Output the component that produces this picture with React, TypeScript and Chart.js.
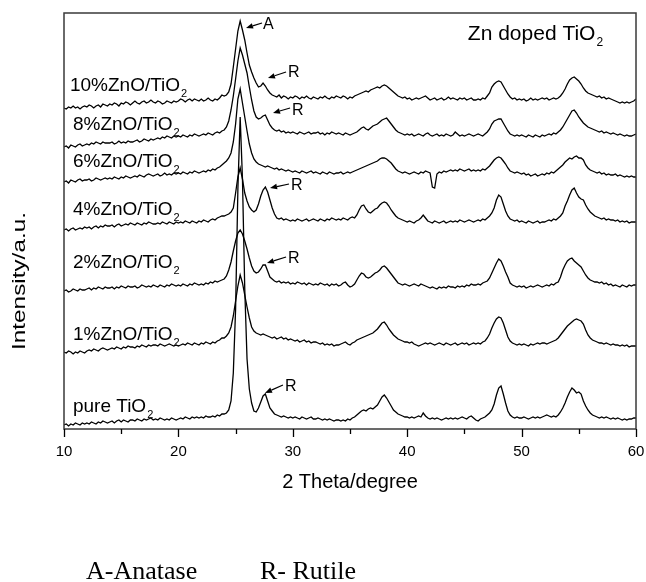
import React, { useEffect, useRef } from "react";
import { Chart, registerables } from "chart.js";

Chart.register(...registerables);

// 2θ sampling grid (degrees): 10.0 … 60.0, step 0.2
const X_START = 10;
const X_STEP = 0.2;
const X_COUNT = 251;
const TWO_THETA = Array.from({ length: X_COUNT }, (_, i) => +(X_START + i * X_STEP).toFixed(1));

// Stacked intensities (a.u., offsets included as drawn)
const PURE = [
  4,5,3,5,4,6,5,4,6,5, 6,5,7,6,5,7,6,8,7,6, 7,8,6,8,9,7,9,8,7,9, 9,8,10,9,8,10,9,10,11,9,
  10,9,11,10,9,10,9,11,10,9, 10,11,10,12,11,10,12,11,12,11, 12,11,13,12,12,13,12,14,13,15,
  15,16,19,28,56,120,240,312,250,140, 70,40,26,18,17,21,27,33,35,28, 21,18,15,14,13,12,13,12,11,12,
  11,12,11,10,12,11,10,11,12,10, 10,11,10,9,10,9,10,9,8,9, 9,8,9,8,10,9,11,12,14,16,
  18,19,18,20,21,20,22,24,28,32, 34,31,27,23,19,17,15,14,13,12, 12,11,12,11,12,13,12,16,13,11,
  10,11,10,11,10,9,10,11,10,11, 10,11,10,11,12,11,10,12,13,11, 9,8,10,11,12,14,16,19,25,34,
  41,43,35,26,18,14,12,11,12,11, 11,12,11,10,11,12,11,12,11,12, 13,14,13,12,13,12,14,17,21,26,
  32,37,41,39,36,37,35,28,23,19, 16,14,13,12,11,12,11,12,11,10, 11,10,11,10,9,10,9,10,10,11,
  11,
];
const ZNO_1 = [
  77,76,78,77,75,77,76,78,77,76, 78,79,78,80,79,78,80,81,80,79, 80,81,80,82,81,80,82,81,83,82,
  82,81,83,82,84,83,82,84,83,84, 84,83,85,84,83,84,85,84,83,84, 83,84,85,84,86,85,84,86,85,84,
  86,85,87,86,85,87,86,88,89,91, 91,93,96,102,113,128,143,154,146,134, 122,111,102,98,96,95,94,95,94,93,
  92,91,92,90,91,92,90,91,89,90, 89,88,89,87,88,89,87,88,86,87, 87,86,85,86,84,85,84,85,83,84,
  84,85,86,87,85,84,86,87,89,90, 91,92,93,94,95,96,98,100,103,106, 107,104,100,97,94,92,90,89,88,87,
  87,86,87,85,84,83,84,85,86,85, 86,85,84,85,86,85,84,86,85,84, 85,86,84,85,86,85,86,84,85,86,
  85,86,85,87,88,91,95,101,106,110, 112,111,106,99,92,88,86,85,84,85, 84,85,84,83,85,84,85,86,85,86,
  86,85,86,87,88,89,91,94,97,100, 103,105,107,109,110,109,108,105,99,94, 91,89,88,87,86,86,85,86,85,84,
  85,84,84,83,84,83,84,82,83,83,
  83,
];
const ZNO_2 = [
  138,139,137,138,140,139,138,140,139,139, 140,141,139,141,140,142,141,140,142,141, 141,142,140,142,141,143,142,141,143,142,
  142,143,141,142,144,143,142,143,142,144, 143,142,144,143,142,144,143,145,144,143, 144,143,145,144,143,145,144,146,145,144,
  145,144,146,145,147,146,148,147,148,149, 150,153,159,167,178,188,196,199,195,188, 180,171,163,158,156,157,160,164,164,158,
  152,150,148,147,148,146,147,146,147,145, 146,145,147,146,145,146,144,146,145,144, 145,144,146,145,144,145,143,145,144,145,
  143,144,146,147,144,142,143,145,149,153, 156,155,152,151,152,154,156,157,159,162, 163,161,158,155,152,149,146,145,144,145,
  144,143,144,145,144,143,145,144,143,142, 141,142,141,140,142,141,142,141,143,142, 142,141,143,142,143,142,144,143,145,144,
  144,145,144,146,147,148,151,156,161,166, 170,168,163,157,152,146,144,143,142,143, 142,143,141,142,143,142,143,144,143,142,
  143,144,143,145,144,146,147,152,159,164, 168,170,171,168,166,164,162,158,154,151, 149,148,147,147,146,147,145,146,144,145,
  143,144,143,142,144,143,142,144,143,144,
  144,
];
const ZNO_4 = [
  199,200,198,200,201,199,200,201,200,202, 201,202,200,202,203,201,203,202,204,203, 203,204,202,204,205,203,204,205,204,206,
  205,204,206,205,204,206,205,207,206,205, 205,206,205,207,206,205,207,206,205,207, 206,207,206,208,207,206,208,207,206,208,
  207,209,208,207,209,210,209,211,212,213, 213,214,215,217,221,236,252,261,250,236, 228,222,219,217,219,225,233,239,242,237,
  229,221,215,211,210,211,209,210,209,208, 209,208,210,209,208,209,210,208,209,210, 209,208,210,209,208,210,209,211,210,209,
  210,209,211,210,209,211,212,211,214,219, 223,224,220,217,216,218,220,221,224,226, 227,226,223,219,216,213,211,210,209,208,
  207,208,207,206,208,209,211,214,211,208, 207,206,208,207,206,207,208,206,207,208, 207,208,207,209,208,207,208,209,208,207,
  208,209,208,210,209,211,213,216,221,229, 234,232,225,218,213,210,209,208,209,207, 208,207,206,208,207,206,207,208,206,207,
  207,208,209,208,210,209,211,213,216,223, 228,234,239,241,236,232,230,229,224,220, 217,215,213,212,211,210,211,209,210,209,
  209,208,209,207,208,207,208,206,207,207,
  207,
];
const ZNO_6 = [
  247,248,246,249,248,247,249,250,248,249, 249,250,248,249,251,250,249,250,251,250, 251,250,252,251,250,252,251,253,252,251,
  252,253,252,254,253,252,254,255,254,253, 254,255,253,254,256,254,255,254,256,255, 256,255,257,256,255,257,256,258,257,256,
  257,258,257,259,258,260,259,261,262,264, 266,268,271,276,287,305,330,340,326,312, 298,285,276,270,267,265,264,263,262,263,
  262,261,260,261,259,260,259,258,259,258, 257,258,257,256,258,257,256,257,258,256, 257,256,255,257,256,255,257,256,255,256,
  256,257,255,256,257,256,257,258,259,260, 261,262,263,264,265,266,267,268,270,271, 271,270,268,266,263,260,258,257,256,257,
  256,255,256,257,256,255,257,256,258,257, 256,242,241,255,257,256,258,257,258,259, 258,259,258,260,259,258,259,260,258,259,
  258,259,258,260,259,261,263,266,269,271, 272,271,268,265,261,258,257,256,257,256, 255,256,254,255,253,254,255,253,254,255,
  254,256,255,257,256,258,260,262,264,267, 269,271,270,272,273,271,271,269,264,261, 259,258,257,256,257,255,256,254,255,254,
  254,255,253,254,253,252,253,252,253,252,
  252,
];
const ZNO_8 = [
  282,283,281,284,283,282,284,285,283,284, 285,284,286,285,287,286,285,287,286,286, 286,287,285,286,288,286,287,286,288,287,
  287,288,289,287,288,290,289,288,290,289, 290,291,290,292,291,293,292,291,293,292, 293,292,294,293,292,294,293,295,294,293,
  294,295,294,296,295,294,296,297,296,298, 299,302,308,319,333,350,368,381,374,365, 356,342,329,318,312,310,311,313,314,309,
  304,301,299,298,299,297,298,296,297,296, 297,296,295,297,296,295,296,297,295,296, 296,297,295,296,294,296,295,297,296,295,
  296,295,294,296,295,294,295,296,297,299, 301,302,300,299,301,303,304,305,307,309, 310,311,308,305,302,299,297,296,295,294,
  295,294,295,293,294,295,294,293,295,296, 294,293,294,295,293,294,293,295,294,293, 294,297,295,293,294,293,294,295,294,293,
  294,295,294,293,295,297,300,305,308,309, 310,310,306,302,298,295,294,293,294,293, 294,293,292,294,293,292,294,293,292,294,
  293,294,295,294,296,295,297,299,302,306, 310,314,318,319,316,312,309,306,304,302, 301,300,299,298,297,298,296,297,296,295,
  296,295,294,295,294,293,294,293,293,294,
  295,
];
const ZNO_10 = [
  321,320,322,321,323,321,322,320,322,323, 322,324,323,321,323,324,322,325,324,323, 325,324,326,325,323,326,325,327,326,324,
  326,328,326,325,327,328,326,327,329,327, 326,328,327,325,326,328,327,326,328,327, 328,330,329,327,329,330,328,330,329,328,
  330,328,329,331,329,328,330,329,331,334, 333,334,337,345,362,380,398,408,399,389, 376,364,357,351,346,342,343,346,343,339,
  336,334,333,332,334,331,333,332,330,332, 331,333,332,330,332,331,333,331,330,332, 331,330,332,331,333,331,330,332,331,333,
  332,331,333,332,330,332,331,333,334,335, 336,337,338,337,339,340,341,342,341,343, 344,343,341,339,337,335,333,332,331,332,
  330,331,329,330,331,330,331,332,333,331, 329,330,331,329,330,331,329,330,332,330, 331,330,329,331,330,331,329,330,331,329,
  329,330,329,331,330,333,336,342,345,347, 348,347,343,339,335,332,330,331,329,330, 329,330,328,329,331,329,330,329,330,331,
  330,331,329,330,331,330,331,333,336,340, 345,349,351,352,350,348,345,341,338,336, 335,334,333,332,333,331,332,330,331,330,
  329,328,327,326,327,326,327,326,327,328,
  330,
];

const SERIES = [PURE, ZNO_1, ZNO_2, ZNO_4, ZNO_6, ZNO_8, ZNO_10];
const SERIES_LABELS = ["pure TiO", "1%ZnO/TiO", "2%ZnO/TiO", "4%ZnO/TiO", "6%ZnO/TiO", "8%ZnO/TiO", "10%ZnO/TiO"];
const LABEL_X = [10.78, 10.78, 10.78, 10.78, 10.78, 10.78, 10.52]; // degrees (left edge)
const LABEL_Y = [17, 89, 161, 214, 262, 299, 338]; // a.u. (baseline)

const X_MIN = 10;
const X_MAX = 60;
const Y_MIN = 0;
const Y_MAX = 416;
const MAJOR_TICKS = [10, 20, 30, 40, 50, 60];
const MINOR_TICKS = [15, 25, 35, 45, 55];

const X_TITLE = "2 Theta/degree";
const Y_TITLE = "Intensity/a.u.";
const CORNER_TITLE = "Zn doped TiO";
const CORNER_X = 45.3;
const CORNER_Y = 389;

const ANNOT_TEXT = ["A", "R", "R", "R", "R", "R"];
const ANNOT_TEXT_X = [27.4, 29.58, 29.93, 29.84, 29.58, 29.32];
const ANNOT_TEXT_Y = [400, 352, 314, 239, 166, 38];
const ARROW_TAIL_X = [27.31, 29.41, 29.76, 29.67, 29.41, 29.14];
const ARROW_TAIL_Y = [406, 357, 321, 245, 172, 44];
const ARROW_TIP_X = [25.91, 27.83, 28.27, 28.01, 27.74, 27.57];
const ARROW_TIP_Y = [401, 351, 316, 241, 166, 36];

const FOOTNOTES = ["A-Anatase", "R- Rutile"];

const SANS = '"Liberation Sans", Arial, Helvetica, sans-serif';
const SERIF = '"Liberation Serif", "Times New Roman", Times, serif';

function drawSub(ctx: CanvasRenderingContext2D, text: string, x: number, y: number, size: number) {
  ctx.font = `${size}px ${SANS}`;
  ctx.textAlign = "left";
  ctx.textBaseline = "alphabetic";
  ctx.fillText(text, x, y);
  const w = ctx.measureText(text).width;
  ctx.font = `${Math.round(size * 0.58)}px ${SANS}`;
  ctx.fillText("2", x + w + 1, y + 6);
}

const overlay = {
  id: "overlay",
  afterDraw(chart: any) {
    const { ctx, chartArea: a, scales } = chart;
    const xs = scales.x;
    const ys = scales.y;
    ctx.save();
    ctx.fillStyle = "#000";
    // frame
    ctx.strokeStyle = "#3a3a3a";
    ctx.lineWidth = 1.5;
    ctx.strokeRect(a.left, a.top, a.right - a.left, a.bottom - a.top);
    // ticks
    ctx.strokeStyle = "#000";
    ctx.lineWidth = 1.3;
    ctx.beginPath();
    MAJOR_TICKS.forEach((v) => {
      const px = Math.round(xs.getPixelForValue(v)) + 0.5;
      ctx.moveTo(px, a.bottom);
      ctx.lineTo(px, a.bottom + 8);
    });
    MINOR_TICKS.forEach((v) => {
      const px = Math.round(xs.getPixelForValue(v)) + 0.5;
      ctx.moveTo(px, a.bottom);
      ctx.lineTo(px, a.bottom + 5);
    });
    ctx.stroke();

    // series labels
    SERIES_LABELS.forEach((t, i) => {
      drawSub(ctx, t, xs.getPixelForValue(LABEL_X[i]), ys.getPixelForValue(LABEL_Y[i]), 19);
    });
    drawSub(ctx, CORNER_TITLE, xs.getPixelForValue(CORNER_X), ys.getPixelForValue(CORNER_Y), 21);

    // annotations
    ANNOT_TEXT.forEach((t, i) => {
      const tx = xs.getPixelForValue(ARROW_TAIL_X[i]);
      const ty = ys.getPixelForValue(ARROW_TAIL_Y[i]);
      const hx = xs.getPixelForValue(ARROW_TIP_X[i]);
      const hy = ys.getPixelForValue(ARROW_TIP_Y[i]);
      const ang = Math.atan2(hy - ty, hx - tx);
      const L = 7, W = 2.8;
      const bx = hx - L * Math.cos(ang);
      const by = hy - L * Math.sin(ang);
      ctx.lineWidth = 1.2;
      ctx.beginPath();
      ctx.moveTo(tx, ty);
      ctx.lineTo(bx, by);
      ctx.stroke();
      ctx.beginPath();
      ctx.moveTo(hx, hy);
      ctx.lineTo(bx + W * Math.sin(ang), by - W * Math.cos(ang));
      ctx.lineTo(bx - W * Math.sin(ang), by + W * Math.cos(ang));
      ctx.closePath();
      ctx.fill();
      ctx.font = `16px ${SANS}`;
      ctx.textAlign = "left";
      ctx.textBaseline = "alphabetic";
      ctx.fillText(t, xs.getPixelForValue(ANNOT_TEXT_X[i]), ys.getPixelForValue(ANNOT_TEXT_Y[i]));
    });

    // axis titles
    ctx.font = `20px ${SANS}`;
    ctx.textAlign = "center";
    ctx.textBaseline = "middle";
    ctx.fillText(X_TITLE, (a.left + a.right) / 2, a.bottom + 53);
    ctx.save();
    ctx.translate(20, (a.top + a.bottom) / 2 + 60);
    ctx.rotate(-Math.PI / 2);
    ctx.scale(1.28, 1);
    ctx.font = `19px ${SANS}`;
    ctx.fillText(Y_TITLE, 0, 0);
    ctx.restore();

    // footnote
    ctx.font = `26px ${SERIF}`;
    ctx.textAlign = "left";
    ctx.textBaseline = "alphabetic";
    ctx.fillText(FOOTNOTES[0], 86, a.bottom + 150);
    ctx.fillText(FOOTNOTES[1], 260, a.bottom + 150);
    ctx.restore();
  },
};

export default function App() {
  const ref = useRef<HTMLCanvasElement | null>(null);
  useEffect(() => {
    if (!ref.current) return;
    const chart = new Chart(ref.current, {
      type: "line",
      data: {
        datasets: SERIES.map((vals, k) => ({
          label: SERIES_LABELS[k],
          data: TWO_THETA.map((x, i) => ({ x, y: vals[i] })),
          borderColor: "#000",
          borderWidth: 1.3,
          pointRadius: 0,
          tension: 0,
          fill: false,
        })),
      },
      options: {
        responsive: false,
        animation: false,
        events: [],
        layout: { padding: { left: 64, right: 10, top: 13, bottom: 113 } },
        plugins: { legend: { display: false }, tooltip: { enabled: false }, title: { display: false } },
        scales: {
          x: {
            type: "linear",
            min: X_MIN,
            max: X_MAX,
            afterBuildTicks: (s: any) => {
              s.ticks = MAJOR_TICKS.map((v) => ({ value: v }));
            },
            afterFit: (s: any) => {
              s.height = 40;
              s.paddingLeft = 0;
              s.paddingRight = 0;
            },
            ticks: { color: "#000", padding: 14, maxRotation: 0, autoSkip: false, font: { family: SANS, size: 15 } },
            grid: { display: false, drawTicks: false },
            border: { display: false },
          },
          y: { display: false, min: Y_MIN, max: Y_MAX },
        },
      } as any,
      plugins: [overlay as any],
    });
    return () => chart.destroy();
  }, []);
  return (
    <div style={{ position: "absolute", left: 0, top: 0, width: 646, height: 582, background: "#fff" }}>
      <canvas ref={ref} width={646} height={582} style={{ display: "block" }} />
    </div>
  );
}
